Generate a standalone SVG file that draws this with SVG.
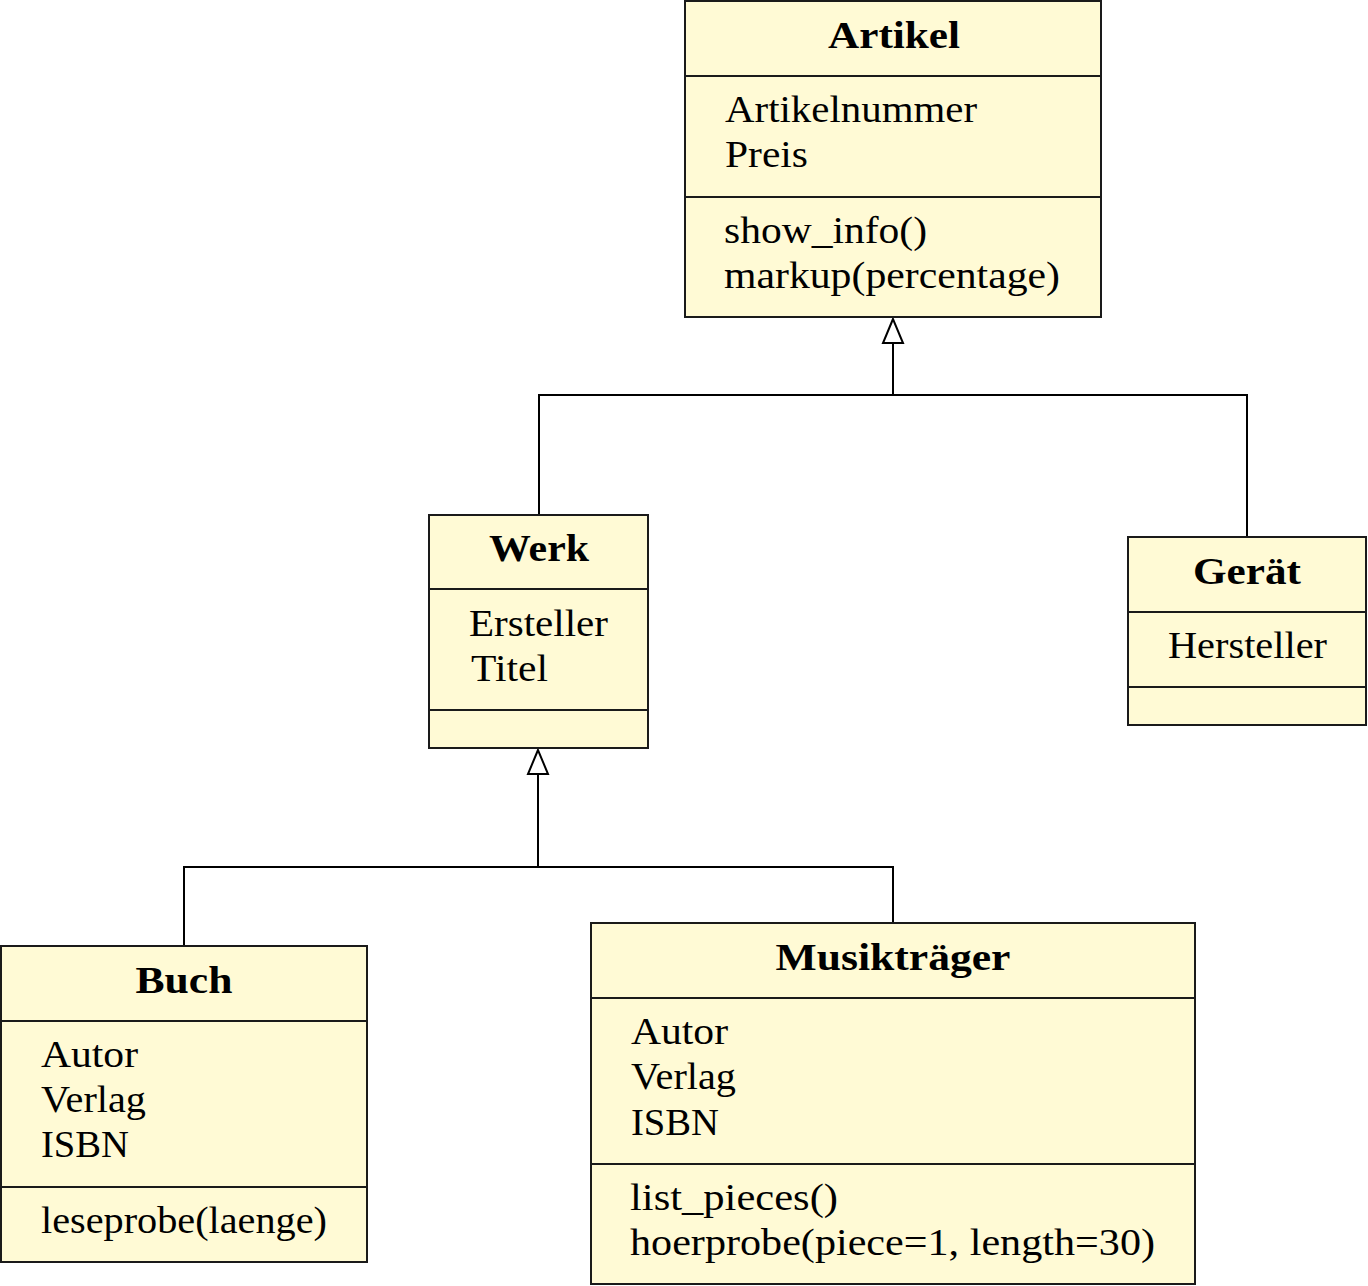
<svg xmlns="http://www.w3.org/2000/svg" width="1368" height="1286" viewBox="0 0 1368 1286">
<defs>
<style>
.box{fill:#fffad5;stroke:#1a1a1a;stroke-width:2}
.sep{stroke:#1a1a1a;stroke-width:2;fill:none}
text{font-family:"Liberation Serif","DejaVu Serif",serif;font-size:37px;fill:#000}
.t{font-weight:bold;text-anchor:middle}
.c{stroke:#000;stroke-width:2;fill:none}
.head{fill:#fff;stroke:#000;stroke-width:2}
</style>
</defs>
<rect width="1368" height="1286" fill="#fff"/>
<g id="connectors">
<polyline class="c" points="893,343 893,395"/>
<polyline class="c" points="539,515 539,395 1247,395 1247,537"/>
<polygon class="head" points="893,319 883,343 903,343"/>
<polyline class="c" points="538,774 538,867"/>
<polyline class="c" points="184,946 184,867 893,867 893,923"/>
<polygon class="head" points="538,750 528,774 548,774"/>
</g>
<g id="artikel">
<rect class="box" x="685" y="1" width="416" height="316"/>
<line class="sep" x1="685" y1="76" x2="1101" y2="76"/>
<line class="sep" x1="685" y1="197" x2="1101" y2="197"/>
<text class="t" x="894" y="48" textLength="132" lengthAdjust="spacingAndGlyphs">Artikel</text>
<text x="725" y="122" textLength="252" lengthAdjust="spacingAndGlyphs">Artikelnummer</text>
<text x="725" y="167" textLength="83" lengthAdjust="spacingAndGlyphs">Preis</text>
<text x="724" y="243" textLength="203" lengthAdjust="spacingAndGlyphs">show_info()</text>
<text x="724" y="288" textLength="336" lengthAdjust="spacingAndGlyphs">markup(percentage)</text>
</g>
<g id="werk">
<rect class="box" x="429" y="515" width="219" height="233"/>
<line class="sep" x1="429" y1="589" x2="648" y2="589"/>
<line class="sep" x1="429" y1="710" x2="648" y2="710"/>
<text class="t" x="539" y="561" textLength="100" lengthAdjust="spacingAndGlyphs">Werk</text>
<text x="469" y="636" textLength="139" lengthAdjust="spacingAndGlyphs">Ersteller</text>
<text x="471" y="681" textLength="77" lengthAdjust="spacingAndGlyphs">Titel</text>
</g>
<g id="geraet">
<rect class="box" x="1128" y="537" width="238" height="188"/>
<line class="sep" x1="1128" y1="612" x2="1366" y2="612"/>
<line class="sep" x1="1128" y1="687" x2="1366" y2="687"/>
<text class="t" x="1247" y="584" textLength="108" lengthAdjust="spacingAndGlyphs">Gerät</text>
<text x="1168" y="658" textLength="159" lengthAdjust="spacingAndGlyphs">Hersteller</text>
</g>
<g id="buch">
<rect class="box" x="1" y="946" width="366" height="316"/>
<line class="sep" x1="1" y1="1021" x2="367" y2="1021"/>
<line class="sep" x1="1" y1="1187" x2="367" y2="1187"/>
<text class="t" x="184" y="993" textLength="97" lengthAdjust="spacingAndGlyphs">Buch</text>
<text x="41" y="1067" textLength="97" lengthAdjust="spacingAndGlyphs">Autor</text>
<text x="41" y="1112" textLength="105" lengthAdjust="spacingAndGlyphs">Verlag</text>
<text x="41" y="1157" textLength="88" lengthAdjust="spacingAndGlyphs">ISBN</text>
<text x="41" y="1233" textLength="286" lengthAdjust="spacingAndGlyphs">leseprobe(laenge)</text>
</g>
<g id="musiktraeger">
<rect class="box" x="591" y="923" width="604" height="361"/>
<line class="sep" x1="591" y1="998" x2="1195" y2="998"/>
<line class="sep" x1="591" y1="1164" x2="1195" y2="1164"/>
<text class="t" x="893" y="970" textLength="235" lengthAdjust="spacingAndGlyphs">Musikträger</text>
<text x="631" y="1044" textLength="97" lengthAdjust="spacingAndGlyphs">Autor</text>
<text x="631" y="1089" textLength="105" lengthAdjust="spacingAndGlyphs">Verlag</text>
<text x="631" y="1135" textLength="88" lengthAdjust="spacingAndGlyphs">ISBN</text>
<text x="630" y="1210" textLength="208" lengthAdjust="spacingAndGlyphs">list_pieces()</text>
<text x="630" y="1255" textLength="525" lengthAdjust="spacingAndGlyphs">hoerprobe(piece=1, length=30)</text>
</g>
</svg>
